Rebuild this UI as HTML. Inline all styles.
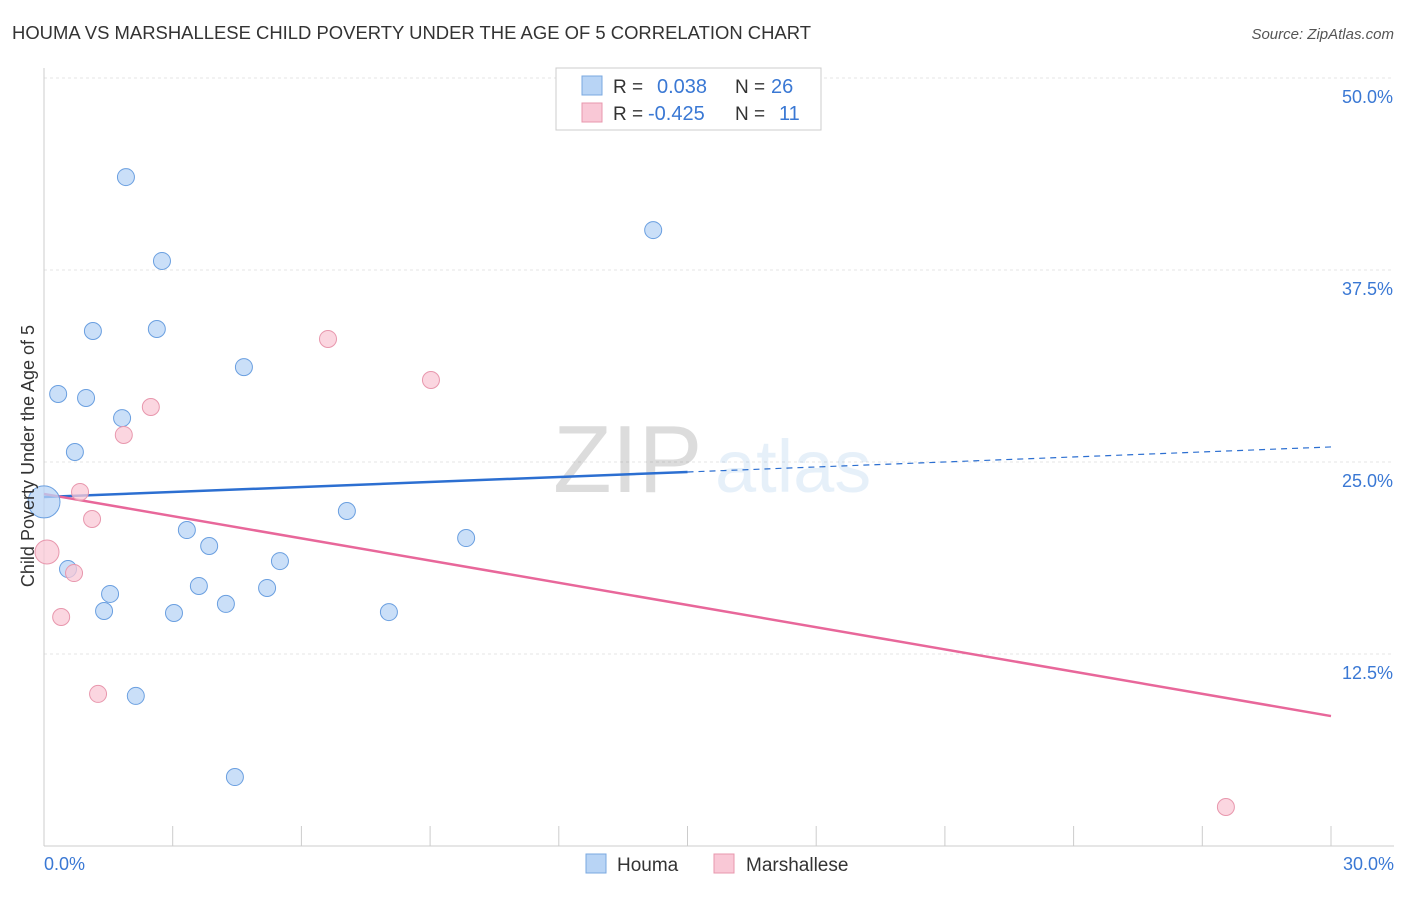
<!DOCTYPE html>
<html><head><meta charset="utf-8"><style>
body{margin:0;background:#fff;font-family:"Liberation Sans",sans-serif;}
svg text{font-family:"Liberation Sans",sans-serif;}
</style></head><body>
<svg id="chart" width="1406" height="892">
<text x="12" y="39" font-size="18" fill="#333" textLength="799" lengthAdjust="spacingAndGlyphs">HOUMA VS MARSHALLESE CHILD POVERTY UNDER THE AGE OF 5 CORRELATION CHART</text>
<text x="1394" y="39" font-size="15" fill="#555" text-anchor="end" font-style="italic">Source: ZipAtlas.com</text>
<g id="grid"></g>
<g id="watermark">
<text x="553" y="492" font-size="96" font-family="Liberation Serif" fill="#555" opacity="0.2">ZIP</text>
<text x="715" y="492" font-size="74" fill="#4a90d9" opacity="0.13">atlas</text>
</g>
<g id="axes"></g>
<g id="lines"></g>
<g id="points"></g>
<text transform="translate(34,456) rotate(-90)" font-size="18" fill="#333" text-anchor="middle">Child Poverty Under the Age of 5</text>
<g>
<rect x="556" y="68" width="265" height="62" fill="#fff" stroke="#ccc"/>
<rect x="582" y="76" width="20" height="19" fill="#b8d4f5" stroke="#7aa8e0"/>
<rect x="582" y="103" width="20" height="19" fill="#f9c8d6" stroke="#e897ad"/>
<text x="613" y="93" font-size="19" fill="#333">R =</text>
<text x="657" y="93" font-size="20" fill="#3a78d4">0.038</text>
<text x="735" y="93" font-size="19" fill="#333">N =</text>
<text x="771" y="93" font-size="20" fill="#3a78d4">26</text>
<text x="613" y="120" font-size="19" fill="#333">R =</text>
<text x="648" y="120" font-size="20" fill="#3a78d4">-0.425</text>
<text x="735" y="120" font-size="19" fill="#333">N =</text>
<text x="779" y="120" font-size="20" fill="#3a78d4">11</text>
</g>
<g>
<rect x="586" y="854" width="20" height="19" fill="#b8d4f5" stroke="#7aa8e0"/>
<text x="617" y="871" font-size="19" fill="#333">Houma</text>
<rect x="714" y="854" width="20" height="19" fill="#f9c8d6" stroke="#e897ad"/>
<text x="746" y="871" font-size="19" fill="#333">Marshallese</text>
</g>
</svg>
<script>
const yTicks=[12.5,25,37.5,50];
const yTickLabels=["12.5%","25.0%","37.5%","50.0%"];
const xTicks=[0,3,6,9,12,15,18,21,24,27,30];
const houmaX=[1.91,2.75,14.20,1.14,2.63,4.66,0.33,0.98,1.82,0.72,0,7.06,3.33,3.85,9.84,5.50,0.56,3.61,5.20,1.54,1.40,3.03,4.24,8.04,2.14,4.45];
const houmaY=[43.55,38.09,40.10,33.53,33.66,31.18,29.43,29.17,27.86,25.65,22.4,21.81,20.57,19.53,20.05,18.55,18.03,16.93,16.80,16.41,15.30,15.17,15.76,15.23,9.77,4.49];
const marshX=[6.62,9.02,2.49,1.86,0.84,1.12,0.07,0.70,0.40,1.26,27.55];
const marshY=[33.01,30.34,28.58,26.76,23.05,21.29,19.14,17.77,14.91,9.90,2.54];
const houmaTrend=[22.72,25.98];
const marshTrend=[22.92,8.46];
const NS="http://www.w3.org/2000/svg";
const X=v=>44+v*42.9, Y=v=>846-v*15.36;
function mk(t,a,p){const e=document.createElementNS(NS,t);for(const k in a)e.setAttribute(k,a[k]);p.appendChild(e);return e;}
const grid=document.getElementById('grid'),axes=document.getElementById('axes'),lines=document.getElementById('lines'),pts=document.getElementById('points');
yTicks.forEach((t,i)=>{
 const l=mk('line',{x1:44,x2:1394,y1:Y(t),y2:Y(t),stroke:'#e4e4e4','stroke-dasharray':'3,3'},grid);
 
 
 const tx=mk('text',{x:1393,y:Y(t)+25,'font-size':18,fill:'#3a78d4','text-anchor':'end'},axes);
 tx.textContent=yTickLabels[i];
 
 
});
mk('line',{x1:44,x2:44,y1:68,y2:846,stroke:'#ccc'},axes);
mk('line',{x1:44,x2:1394,y1:846,y2:846,stroke:'#ccc'},axes);
xTicks.forEach(t=>{
 const l=mk('line',{x1:X(t),x2:X(t),y1:826,y2:846,stroke:'#ccc'},axes);
 
 
});
const x0=mk('text',{x:44,y:870,'font-size':18,fill:'#3a78d4'},axes);x0.textContent='0.0%';


const x1=mk('text',{x:1394,y:870,'font-size':18,fill:'#3a78d4','text-anchor':'end'},axes);x1.textContent='30.0%';


const yAt=(tr,x)=>tr[0]+(tr[1]-tr[0])*x/30;
let l1=mk('line',{x1:X(0),y1:Y(houmaTrend[0]),x2:X(15),y2:Y(yAt(houmaTrend,15)),stroke:'#2c6fd1','stroke-width':2.5},lines);


let l2=mk('line',{x1:X(15),y1:Y(yAt(houmaTrend,15)),x2:X(30),y2:Y(houmaTrend[1]),stroke:'#2c6fd1','stroke-width':1.2,'stroke-dasharray':'6,5'},lines);


let l3=mk('line',{x1:X(0),y1:Y(marshTrend[0]),x2:X(30),y2:Y(marshTrend[1]),stroke:'#e8679a','stroke-width':2.5},lines);


houmaX.forEach((v,i)=>{
 const c=mk('circle',{cx:X(v),cy:Y(houmaY[i]),r:(v===0?16:8.5),fill:'#b8d4f5','fill-opacity':0.75,stroke:'#6a9fe0','stroke-width':1},pts);
 
 
});
marshX.forEach((v,i)=>{
 const c=mk('circle',{cx:X(v),cy:Y(marshY[i]),r:(i===6?12:8.5),fill:'#f9c8d6','fill-opacity':0.75,stroke:'#e897ad','stroke-width':1},pts);
 
 
});
</script>
</body></html>
